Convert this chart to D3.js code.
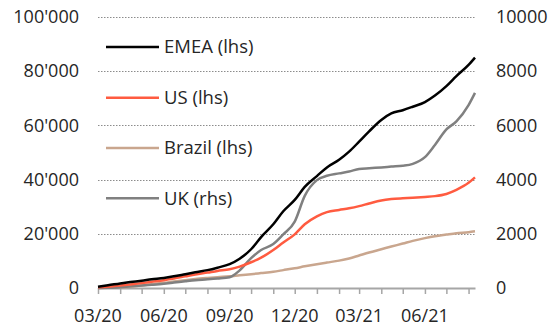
<!DOCTYPE html>
<html><head><meta charset="utf-8">
<script src="https://cdn.jsdelivr.net/npm/d3@7"></script>
<style>
html,body{margin:0;padding:0;background:#fff;}
svg{display:block;font-family:"Open Sans",sans-serif;}
</style></head>
<body><svg id="chart" width="550" height="328"></svg>
<script>
const dates = ["2020-03-01","2020-03-15","2020-04-01","2020-04-15","2020-05-01","2020-05-15","2020-06-01","2020-06-15","2020-07-01","2020-07-15","2020-08-01","2020-08-15","2020-09-01","2020-09-15","2020-10-01","2020-10-15","2020-11-01","2020-11-15","2020-12-01","2020-12-15","2021-01-01","2021-01-15","2021-02-01","2021-02-15","2021-03-01","2021-03-15","2021-04-01","2021-04-15","2021-05-01","2021-05-15","2021-06-01","2021-06-15","2021-07-01","2021-07-15","2021-08-01","2021-08-10"];
const emea = [500,1000,1700,2200,2700,3200,3700,4300,5100,5800,6600,7500,8800,10800,14300,18800,23500,28300,32500,37300,41300,44500,47300,50300,54000,57800,62000,64400,65600,66900,68600,71000,74500,78200,82300,85000];
const us = [300,500,900,1300,1800,2300,2900,3500,4300,5000,5700,6300,6900,7900,9500,11200,14000,16800,19800,23500,26400,28000,28800,29400,30200,31200,32300,32800,33100,33300,33600,33900,34700,36200,38800,40800];
const brazil = [0,100,250,500,900,1400,1900,2400,2900,3300,3700,4000,4300,4700,5100,5500,6000,6600,7300,8000,8800,9400,10100,10900,12000,13100,14300,15300,16400,17400,18400,19100,19700,20200,20600,20900];
const uk = [0,10,30,60,90,120,160,200,250,290,320,350,400,650,1100,1400,1620,1980,2450,3400,3980,4140,4230,4300,4390,4420,4450,4480,4510,4580,4830,5280,5850,6150,6750,7200];
const leftTicks = [0,20000,40000,60000,80000,100000];
const rightTicks = [0,2000,4000,6000,8000,10000];
const xLabelDates = ["2020-03-01","2020-06-01","2020-09-01","2020-12-01","2021-03-01","2021-06-01"];
const seriesNames = ["EMEA (lhs)","US (lhs)","Brazil (lhs)","UK (rhs)"];
const seriesColors = ["#000000","#FF5B40","#C9A68E","#808080"];

const parse = d3.timeParse("%Y-%m-%d");
const D = dates.map(parse);
const svg = d3.select("#chart");
const L = 98, R = 475, T = 17, B = 288;

const x = d3.scaleTime().domain([parse("2020-03-01"), parse("2021-08-10")]).range([L, R]);
const yL = d3.scaleLinear().domain([0,100000]).range([B, T]);
const yR = d3.scaleLinear().domain([0,10000]).range([B, T]);
const fmt = d => d3.format(",")(d).replace(/,/g, "'");

// gridlines
svg.append("g").selectAll("line").data(leftTicks.filter(d=>d>0)).join("line")
  .attr("x1", L).attr("x2", R)
  .attr("y1", d=>Math.round(yL(d))+0.5).attr("y2", d=>Math.round(yL(d))+0.5)
  .attr("stroke", "#8c8c8c").attr("stroke-width", 1).attr("stroke-dasharray", "1.5,1.5");

// left axis labels
const gl = svg.append("g").attr("transform", `translate(${L},0)`)
  .call(d3.axisLeft(yL).tickValues(leftTicks).tickFormat(fmt).tickSize(0).tickPadding(19));
gl.select(".domain").remove();
gl.selectAll("text").attr("font-size", 18).attr("font-family", "Open Sans").attr("fill", "#262626");

// right axis labels
const gr = svg.append("g").attr("transform", `translate(${R},0)`)
  .call(d3.axisRight(yR).tickValues(rightTicks).tickFormat(d3.format("d")).tickSize(0).tickPadding(21));
gr.select(".domain").remove();
gr.selectAll("text").attr("font-size", 18).attr("font-family", "Open Sans").attr("fill", "#262626");

// x axis
const gx = svg.append("g").attr("transform", `translate(0,${B})`)
  .call(d3.axisBottom(x).ticks(d3.timeMonth.every(1)).tickFormat("").tickSize(6).tickSizeOuter(0));
gx.select(".domain").attr("stroke", "#a6a6a6").attr("stroke-width", 2);
gx.selectAll(".tick line").attr("stroke", "#a6a6a6").attr("stroke-width", 1.5);
svg.append("g").selectAll("text").data(xLabelDates.map(parse)).join("text")
  .attr("x", d=>x(d)).attr("y", 322).attr("text-anchor", "middle")
  .attr("font-size", 18).attr("fill", "#262626").text(d3.timeFormat("%m/%y"));

// lines
const mk = (vals, ys) => d3.line().x((d,i)=>x(D[i])).y(d=>ys(d)).curve(d3.curveMonotoneX)(vals);
const data = [[brazil,yL],[uk,yR],[us,yL],[emea,yL]];
const cidx = [2,3,1,0];
data.forEach((s,k)=>{
  svg.append("path").attr("d", mk(s[0], s[1])).attr("fill","none")
    .attr("stroke", seriesColors[cidx[k]]).attr("stroke-width", 2.5).attr("stroke-linejoin","round");
});

// legend
const legY = [47, 97.7, 148, 198.3];
const lg = svg.append("g");
seriesNames.forEach((n,i)=>{
  lg.append("line").attr("x1",106).attr("x2",159).attr("y1",legY[i]).attr("y2",legY[i])
    .attr("stroke", seriesColors[i]).attr("stroke-width", 2.5);
  lg.append("text").attr("x",164).attr("y",legY[i]).attr("dy","0.35em")
    .attr("font-size", 18.5).attr("fill","#262626").text(n);
});
</script></body></html>
